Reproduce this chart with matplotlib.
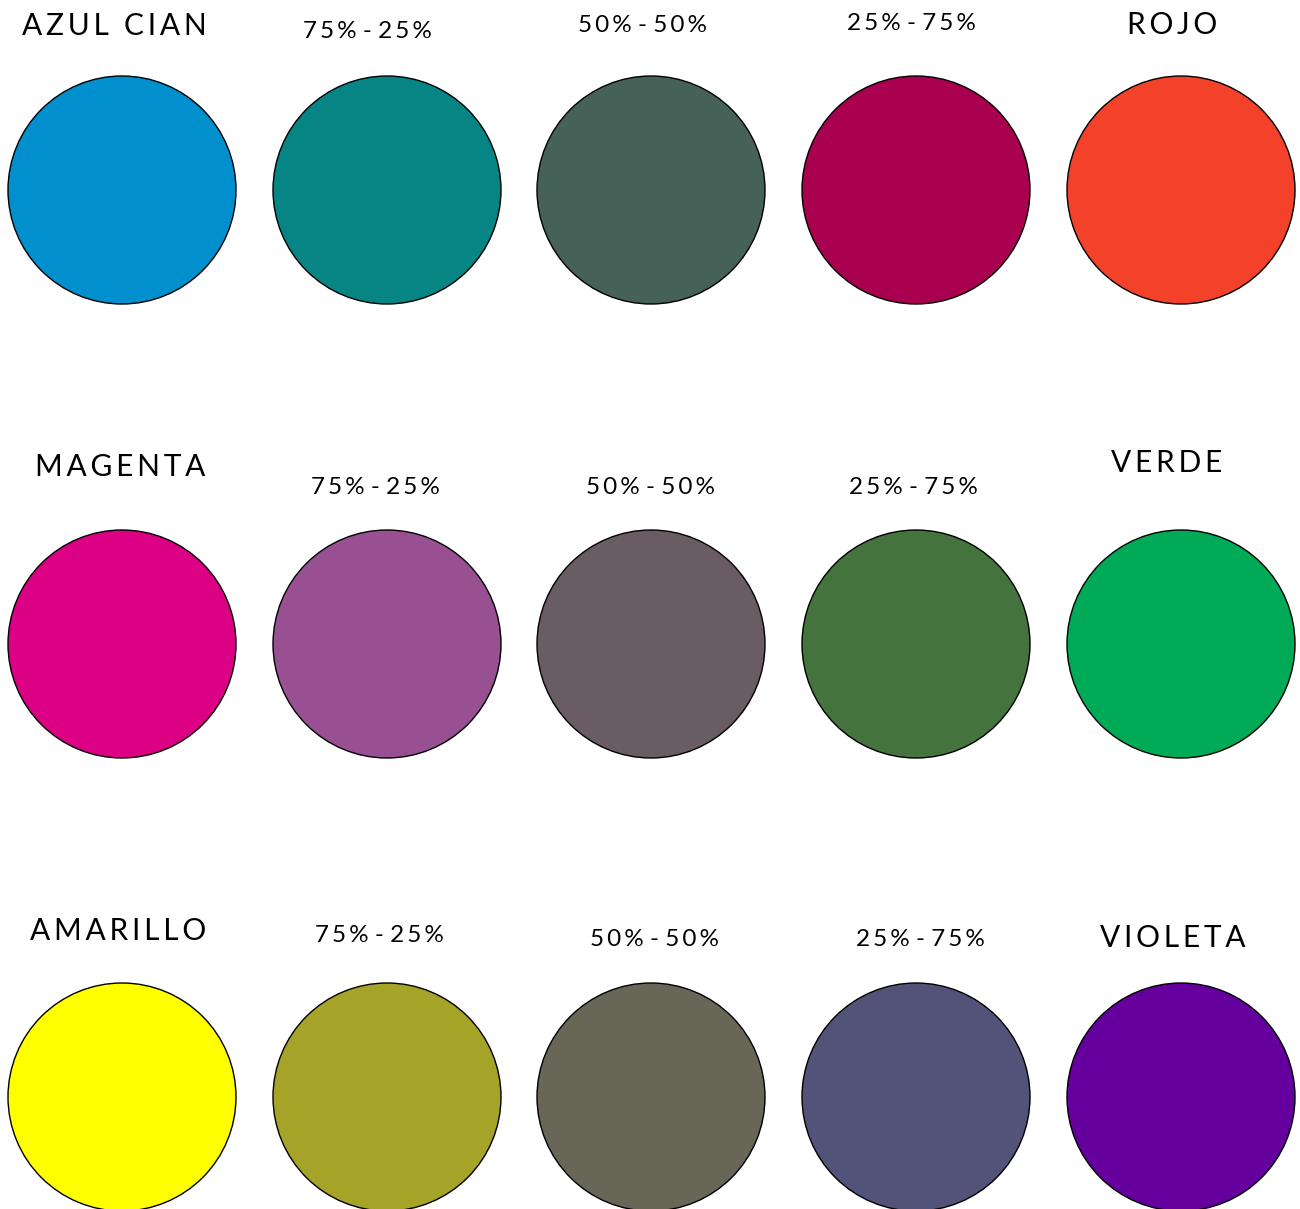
import matplotlib.pyplot as plt
from matplotlib.patches import Circle

# color mixes: base color, three mixes, partner color
row_names = [["AZUL CIAN", "ROJO"], ["MAGENTA", "VERDE"], ["AMARILLO", "VIOLETA"]]
mix_labels = ["75% - 25%", "50% - 50%", "25% - 75%"]
row_colors = [
    ["#0190CD", "#078484", "#466157", "#A90050", "#F4412A"],
    ["#DC0084", "#985093", "#695C62", "#44733D", "#00AA57"],
    ["#FFFF00", "#A5A328", "#686656", "#53537A", "#65009F"],
]

col_x = [122, 387, 651, 916, 1181]
row_y = [190, 644, 1097]
radius = 114
# label placement (x, y) per row, per column
label_x = [[114, 367, 642, 911, 1172],
           [120, 375, 651, 913, 1167],
           [118, 379, 655, 920, 1173]]
label_y = [[26, 32, 26, 24, 25],
           [467, 487, 487, 487, 463],
           [931, 935, 940, 940, 938]]


def spaced(s, gap="\u2009", around_blank=True):
    # loose letter spacing like the original lettering
    out = s[0]
    for a, b in zip(s, s[1:]):
        if " " in (a, b) and not around_blank:
            out += b
        else:
            out += gap + b
    return out


fig = plt.figure(figsize=(13, 12.09), dpi=100)
ax = fig.add_axes([0, 0, 1, 1])
ax.set_xlim(0, 1300)
ax.set_ylim(1209, 0)
ax.set_aspect("equal")
ax.axis("off")

for r in range(3):
    for c in range(5):
        ax.add_patch(Circle((col_x[c], row_y[r]), radius, facecolor=row_colors[r][c],
                            edgecolor="black", linewidth=1))
        if c in (0, 4):
            txt = spaced(row_names[r][0 if c == 0 else 1])
            fs = 21.5
        else:
            txt = spaced(mix_labels[c - 1], around_blank=False)
            fs = 17.5
        ax.text(label_x[r][c], label_y[r][c], txt, ha="center", va="center",
                fontsize=fs, family=["Lato", "DejaVu Sans"], color="black")

fig.savefig("out.png", dpi=100)
